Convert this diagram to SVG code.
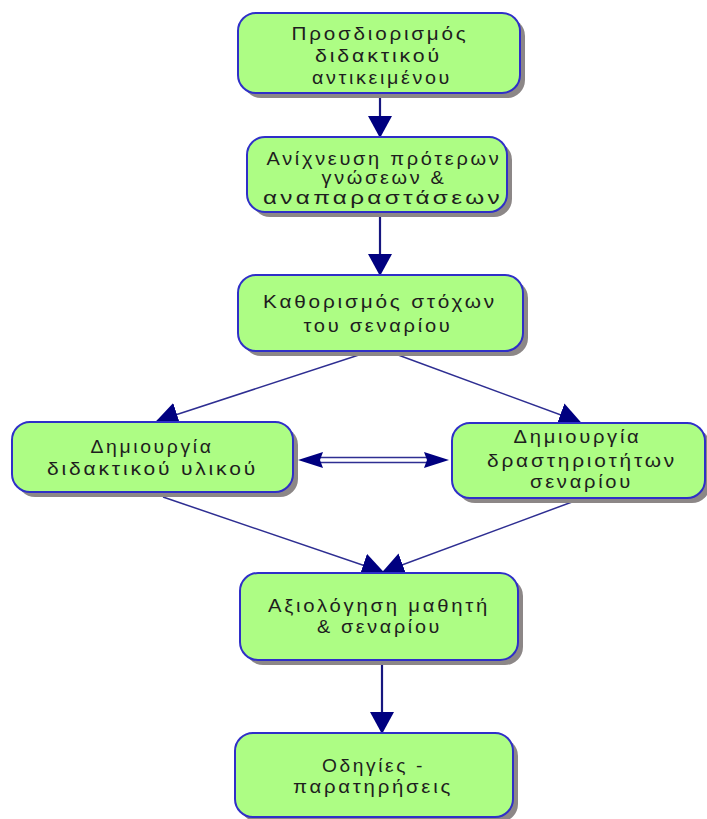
<svg xmlns="http://www.w3.org/2000/svg" width="707" height="819" viewBox="0 0 707 819">
<defs>
<style>
.box{fill:#adfd84;stroke:#2f2fc8;stroke-width:2}
.sh{fill:#8c8787}
.t{font-family:"Liberation Sans",Arial,sans-serif;font-size:18.5px;letter-spacing:2.5px;fill:#1e1e1e;text-anchor:middle}
.v{stroke:#16167f;stroke-width:2.2;fill:none}
.d{stroke:#2e2e92;stroke-width:1.5;fill:none}
.ah{fill:#000080}
</style>
<marker id="arr" markerUnits="userSpaceOnUse" viewBox="0 0 22 24" markerWidth="22" markerHeight="24" refX="21" refY="12" orient="auto">
<path d="M0,0 L22,12 L0,24 z" fill="#000080"/>
</marker>
</defs>
<rect width="707" height="819" fill="#ffffff"/>
<g id="connectors">
<line class="v" x1="380" y1="93" x2="380" y2="137" marker-end="url(#arr)"/>
<line class="v" x1="380" y1="212" x2="380" y2="275" marker-end="url(#arr)"/>
<line class="d" x1="368" y1="352" x2="157" y2="421" marker-end="url(#arr)"/>
<line class="d" x1="390" y1="352" x2="580" y2="422" marker-end="url(#arr)"/>
<line class="d" x1="314" y1="457.5" x2="434" y2="457.5"/>
<line class="d" x1="314" y1="462.5" x2="434" y2="462.5"/>
<polygon class="ah" points="298,460 323,452 320,460 323,468"/>
<polygon class="ah" points="449,460 424,452 427,460 424,468"/>
<line class="d" x1="163" y1="497" x2="383" y2="572" marker-end="url(#arr)"/>
<line class="d" x1="572" y1="502" x2="383" y2="572" marker-end="url(#arr)"/>
<line class="v" x1="382" y1="660" x2="382" y2="733" marker-end="url(#arr)"/>
</g>
<g id="n1">
<rect class="sh" x="243" y="18" width="282" height="80" rx="18"/>
<rect class="box" x="238" y="13" width="282" height="80" rx="18"/>
<text class="t" x="380" y="40" textLength="177" lengthAdjust="spacingAndGlyphs">Προσδιορισμός</text>
<text class="t" x="378.5" y="62" textLength="127" lengthAdjust="spacingAndGlyphs">διδακτικού</text>
<text class="t" x="382" y="84" textLength="140" lengthAdjust="spacingAndGlyphs">αντικειμένου</text>
</g>
<g id="n2">
<rect class="sh" x="252" y="142" width="260" height="75" rx="18"/>
<rect class="box" x="247" y="137" width="260" height="75" rx="18"/>
<text class="t" x="384" y="165" textLength="235" lengthAdjust="spacingAndGlyphs">Ανίχνευση πρότερων</text>
<text class="t" x="384" y="184" textLength="125" lengthAdjust="spacingAndGlyphs">γνώσεων &amp;</text>
<text class="t" x="383" y="204" textLength="240" lengthAdjust="spacingAndGlyphs">αναπαραστάσεων</text>
</g>
<g id="n3">
<rect class="sh" x="243" y="280" width="285" height="76" rx="18"/>
<rect class="box" x="238" y="275" width="285" height="76" rx="18"/>
<text class="t" x="380" y="308" textLength="234" lengthAdjust="spacingAndGlyphs">Καθορισμός στόχων</text>
<text class="t" x="378" y="332" textLength="149" lengthAdjust="spacingAndGlyphs">του σεναρίου</text>
</g>
<g id="n4">
<rect class="sh" x="17" y="427" width="281" height="70" rx="18"/>
<rect class="box" x="12" y="422" width="281" height="70" rx="18"/>
<text class="t" x="152" y="453" textLength="123" lengthAdjust="spacingAndGlyphs">Δημιουργία</text>
<text class="t" x="152.5" y="475" textLength="211" lengthAdjust="spacingAndGlyphs">διδακτικού υλικού</text>
</g>
<g id="n5">
<rect class="sh" x="457" y="428" width="253" height="75" rx="18"/>
<rect class="box" x="452" y="423" width="253" height="75" rx="18"/>
<text class="t" x="577.5" y="443" textLength="128" lengthAdjust="spacingAndGlyphs">Δημιουργία</text>
<text class="t" x="582" y="467" textLength="190" lengthAdjust="spacingAndGlyphs">δραστηριοτήτων</text>
<text class="t" x="581.5" y="488" textLength="103" lengthAdjust="spacingAndGlyphs">σεναρίου</text>
</g>
<g id="n6">
<rect class="sh" x="245" y="578" width="278" height="87" rx="18"/>
<rect class="box" x="240" y="573" width="278" height="87" rx="18"/>
<text class="t" x="379" y="612" textLength="222" lengthAdjust="spacingAndGlyphs">Αξιολόγηση μαθητή</text>
<text class="t" x="379.5" y="633" textLength="125" lengthAdjust="spacingAndGlyphs">&amp; σεναρίου</text>
</g>
<g id="n7">
<rect class="sh" x="240" y="738" width="278" height="84" rx="18"/>
<rect class="box" x="235" y="733" width="278" height="84" rx="18"/>
<text class="t" x="373.5" y="772" textLength="103" lengthAdjust="spacingAndGlyphs">Οδηγίες -</text>
<text class="t" x="373" y="793" textLength="160" lengthAdjust="spacingAndGlyphs">παρατηρήσεις</text>
</g>
</svg>
